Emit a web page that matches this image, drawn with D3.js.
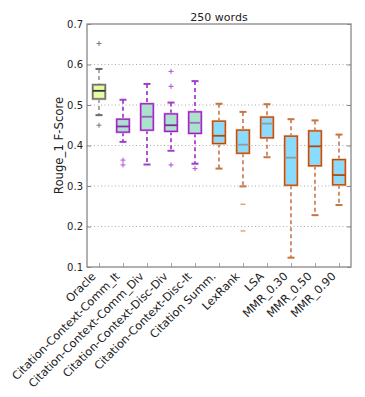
<!DOCTYPE html>
<html>
<head>
<meta charset="utf-8">
<script src="https://cdn.jsdelivr.net/npm/d3@7"></script>
<style>
  body { margin: 0; background: #fff; }
  svg { display: block; }
  svg text { font-family: "DejaVu Sans", sans-serif; }
</style>
</head>
<body>
<div class="container"></div>
<script>
// categories and box statistics
const methods = ["Oracle", "Citation-Context-Comm_It", "Citation-Context-Comm_Div",
  "Citation-Context-Disc-Div", "Citation-Context-Disc-It", "Citation Summ.",
  "LexRank", "LSA", "MMR_0.30", "MMR_0.50", "MMR_0.90"];
const whiskerLow  = [0.475, 0.409, 0.353, 0.387, 0.355, 0.343, 0.299, 0.371, 0.123, 0.228, 0.253];
const boxLow      = [0.515, 0.433, 0.438, 0.435, 0.430, 0.405, 0.381, 0.419, 0.302, 0.350, 0.303];
const medians     = [0.535, 0.447, 0.471, 0.450, 0.456, 0.424, 0.402, 0.454, 0.370, 0.398, 0.327];
const boxHigh     = [0.550, 0.465, 0.503, 0.478, 0.483, 0.460, 0.438, 0.470, 0.423, 0.436, 0.365];
const whiskerHigh = [0.589, 0.513, 0.552, 0.506, 0.559, 0.503, 0.483, 0.502, 0.465, 0.462, 0.427];
const outliers    = [[0.652, 0.450], [0.364, 0.352], [], [0.583, 0.546, 0.352], [0.343],
  [], [0.255, 0.189], [], [], [], []];
const yTicks = [0.1, 0.2, 0.3, 0.4, 0.5, 0.6, 0.7];
const groupOf = [0, 1, 1, 1, 1, 2, 2, 2, 2, 2, 2];

const styles = [
  {fill: "#e2ffa4", edge: "#6f6a5c", halo: "#c8c4b8", whisker: "#a9a9a9", wWidth: 2, cap: "#6f6a5c", flier: "#777"},
  {fill: "#aae3cb", edge: "#9223b5", halo: "#dcb0ee", whisker: "#b34fd4", wWidth: 2, cap: "#a040c8", flier: "#b050d8"},
  {fill: "#88dcff", edge: "#b44a0c", halo: "#e6bea4", whisker: "#b44a0c", wWidth: 1.2, cap: "#c8743f", flier: "#cc7a44"}
];
const medianColors = ["#333", "#8e2bb2", "#a05ac0", "#7a2c9a", "#a56bc2", "#b44a0c",
  "#9a9a9a", "#9a9a9a", "#9a9a9a", "#b44a0c", "#b44a0c"];

const data = methods.map((m, i) => ({
  name: m, lo: whiskerLow[i], q1: boxLow[i], med: medians[i], q3: boxHigh[i],
  hi: whiskerHigh[i], out: outliers[i], st: styles[groupOf[i]], medColor: medianColors[i]
}));

const W = 365, H = 397;
const margin = {top: 24, right: 14, bottom: 130, left: 87};
const plotL = margin.left, plotR = W - margin.right, plotT = margin.top, plotB = H - margin.bottom;

const svg = d3.select(".container").append("svg").attr("width", W).attr("height", H);

const x = d3.scalePoint().domain(methods).range([plotL, plotR]).padding(0.5);
const y = d3.scaleLinear().domain([0.1, 0.7]).range([plotB, plotT]);

// grid
svg.append("g").selectAll("line").data(yTicks.slice(1, -1)).enter().append("line")
  .attr("x1", plotL).attr("x2", plotR)
  .attr("y1", d => y(d)).attr("y2", d => y(d))
  .attr("stroke", "#aaa").attr("stroke-width", 1).attr("stroke-dasharray", "1,2.5");

// y axis on the left with labels
svg.append("g").attr("transform", "translate(" + plotL + ",0)")
  .call(d3.axisLeft(y).tickValues(yTicks).tickFormat(d3.format(".1f")).tickSize(-4).tickPadding(4))
  .attr("font-family", "DejaVu Sans")
  .call(g => g.select(".domain").remove())
  .call(g => g.selectAll("line").attr("stroke", "#888"))
  .call(g => g.selectAll("text").attr("font-size", "10px").attr("fill", "#222"));

// right ticks
svg.append("g").attr("transform", "translate(" + plotR + ",0)")
  .call(d3.axisRight(y).tickValues(yTicks).tickFormat("").tickSize(-4))
  .call(g => g.select(".domain").remove())
  .call(g => g.selectAll("line").attr("stroke", "#888"));

// x axis
svg.append("g").attr("transform", "translate(0," + plotB + ")")
  .call(d3.axisBottom(x).tickSize(-4))
  .attr("font-family", "DejaVu Sans")
  .call(g => g.select(".domain").remove())
  .call(g => g.selectAll("line").attr("stroke", "#aaa"))
  .call(g => g.selectAll("text")
    .attr("font-size", "11.3px").attr("fill", "#222")
    .style("text-anchor", "end")
    .attr("x", 0).attr("y", 0).attr("dy", 0)
    .attr("transform", "translate(-3,10) rotate(-45)"));

// boxes
const bw = 12.5, cw = 7;
const groups = svg.append("g").selectAll("g").data(data).enter().append("g");

groups.append("line")
  .attr("x1", d => x(d.name)).attr("x2", d => x(d.name))
  .attr("y1", d => y(d.hi)).attr("y2", d => y(d.q3))
  .attr("stroke", d => d.st.whisker).attr("stroke-width", d => d.st.wWidth)
  .attr("stroke-dasharray", "4,3");
groups.append("line")
  .attr("x1", d => x(d.name)).attr("x2", d => x(d.name))
  .attr("y1", d => y(d.q1)).attr("y2", d => y(d.lo))
  .attr("stroke", d => d.st.whisker).attr("stroke-width", d => d.st.wWidth)
  .attr("stroke-dasharray", "4,3");

["hi", "lo"].forEach(k => {
  groups.append("line")
    .attr("x1", d => x(d.name) - cw / 2).attr("x2", d => x(d.name) + cw / 2)
    .attr("y1", d => y(d[k])).attr("y2", d => y(d[k]))
    .attr("stroke", d => d.st.cap).attr("stroke-width", 2);
});

groups.append("rect")
  .attr("x", d => x(d.name) - bw / 2).attr("width", bw)
  .attr("y", d => y(d.q3)).attr("height", d => y(d.q1) - y(d.q3))
  .attr("fill", d => d.st.fill).attr("stroke", d => d.st.halo).attr("stroke-width", 2.6);
groups.append("rect")
  .attr("x", d => x(d.name) - bw / 2).attr("width", bw)
  .attr("y", d => y(d.q3)).attr("height", d => y(d.q1) - y(d.q3))
  .attr("fill", "none").attr("stroke", d => d.st.edge).attr("stroke-width", 1.3);

groups.append("line")
  .attr("x1", d => x(d.name) - bw / 2).attr("x2", d => x(d.name) + bw / 2)
  .attr("y1", d => y(d.med)).attr("y2", d => y(d.med))
  .attr("stroke", d => d.medColor).attr("stroke-width", 1.8);

// fliers
groups.each(function(d) {
  const g = d3.select(this);
  d.out.forEach(v => {
    const cx = x(d.name), cy = y(v);
    g.append("line").attr("x1", cx - 2.5).attr("x2", cx + 2.5).attr("y1", cy).attr("y2", cy)
      .attr("stroke", d.st.flier).attr("stroke-width", 1);
    if (d.st !== styles[2]) {
      g.append("line").attr("x1", cx).attr("x2", cx).attr("y1", cy - 2.5).attr("y2", cy + 2.5)
        .attr("stroke", d.st.flier).attr("stroke-width", 1);
    }
  });
});

// frame
svg.append("rect").attr("x", plotL).attr("y", plotT)
  .attr("width", plotR - plotL).attr("height", plotB - plotT)
  .attr("fill", "none").attr("stroke", "#888").attr("stroke-width", 1.3);

// title and y label
svg.append("text").attr("x", (plotL + plotR) / 2).attr("y", 21)
  .attr("text-anchor", "middle").attr("font-size", "11px").attr("fill", "#222")
  .text("250 words");

svg.append("text")
  .attr("transform", "translate(63," + ((plotT + plotB) / 2) + ") rotate(-90)")
  .attr("text-anchor", "middle").attr("font-size", "11.7px").attr("fill", "#222")
  .text("Rouge_1 F-Score");
</script>
</body>
</html>
